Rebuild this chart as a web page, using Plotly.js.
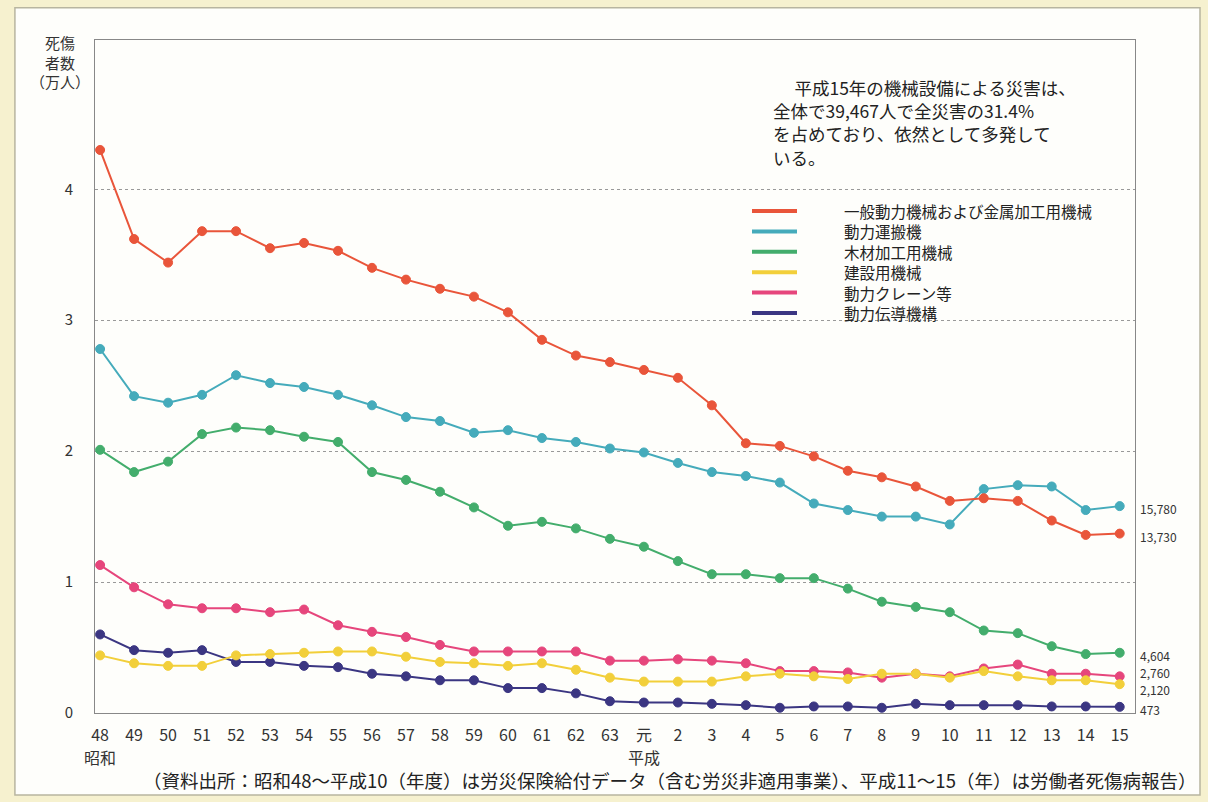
<!DOCTYPE html>
<html>
<head>
<meta charset="utf-8">
<script src="https://cdn.plot.ly/plotly-3.0.1.min.js"></script>
<style>
  body { margin: 0; padding: 0; background: #f6f1cf; }
  #plot { width: 1208px; height: 802px; }
</style>
</head>
<body>
<div id="plot"></div>
<script>
// 年度（昭和48〜63、元、平成2〜15）
var years = ['48','49','50','51','52','53','54','55','56','57','58','59','60','61','62','63',
             '元','2','3','4','5','6','7','8','9','10','11','12','13','14','15'];

var names = ['一般動力機械および金属加工用機械', '動力運搬機', '木材加工用機械', '建設用機械', '動力クレーン等', '動力伝導機構'];
var colors = ['#e9553a', '#45abbb', '#43ad6c', '#f2cf3a', '#e6467c', '#3b3682'];

// 死傷者数（万人）
var kinzoku = [4.30,3.62,3.44,3.68,3.68,3.55,3.59,3.53,3.40,3.31,3.24,3.18,3.06,2.85,2.73,2.68,
               2.62,2.56,2.35,2.06,2.04,1.96,1.85,1.80,1.73,1.62,1.64,1.62,1.47,1.36,1.37];
var unpan   = [2.78,2.42,2.37,2.43,2.58,2.52,2.49,2.43,2.35,2.26,2.23,2.14,2.16,2.10,2.07,2.02,
               1.99,1.91,1.84,1.81,1.76,1.60,1.55,1.50,1.50,1.44,1.71,1.74,1.73,1.55,1.58];
var mokuzai = [2.01,1.84,1.92,2.13,2.18,2.16,2.11,2.07,1.84,1.78,1.69,1.57,1.43,1.46,1.41,1.33,
               1.27,1.16,1.06,1.06,1.03,1.03,0.95,0.85,0.81,0.77,0.63,0.61,0.51,0.45,0.46];
var kensetsu = [0.44,0.38,0.36,0.36,0.44,0.45,0.46,0.47,0.47,0.43,0.39,0.38,0.36,0.38,0.33,0.27,
                0.24,0.24,0.24,0.28,0.30,0.28,0.26,0.30,0.30,0.27,0.32,0.28,0.25,0.25,0.22];
var crane   = [1.13,0.96,0.83,0.80,0.80,0.77,0.79,0.67,0.62,0.58,0.52,0.47,0.47,0.47,0.47,0.40,
               0.40,0.41,0.40,0.38,0.32,0.32,0.31,0.27,0.30,0.28,0.34,0.37,0.30,0.30,0.28];
var dendou  = [0.60,0.48,0.46,0.48,0.39,0.39,0.36,0.35,0.30,0.28,0.25,0.25,0.19,0.19,0.15,0.09,
               0.08,0.08,0.07,0.06,0.04,0.05,0.05,0.04,0.07,0.06,0.06,0.06,0.05,0.05,0.047];

var endLabels = ['15,780', '13,730', '4,604', '2,760', '2,120', '473'];
var endLabelY = [1.56, 1.35, 0.44, 0.31, 0.18, 0.03];

var noteLines = ['\u3000 平成15年の機械設備による災害は、', '全体で39,467人で全災害の31.4%',
                 'を占めており、依然として多発して', 'いる。'];

var series = [kinzoku, unpan, mokuzai, kensetsu, crane, dendou];

var data = [];
for (var j = series.length - 1; j >= 0; j--) {
  data.push({
    x: years, y: series[j],
    type: 'scatter', mode: 'lines+markers',
    name: names[j],
    line: { color: colors[j], width: 2 },
    marker: { color: colors[j], size: 9, line: { color: colors[j], width: 1 } }
  });
}

// px -> paper helpers (plot area 95..1135 x 40..713)
function px(v) { return (v - 95) / 1040; }
function py(v) { return (713 - v) / 673; }

var annotations = [];
var shapes = [{
  type: 'rect', xref: 'paper', yref: 'paper', layer: 'below',
  x0: -0.077, x1: 1.0625, y0: -0.122, y1: 1.048,
  fillcolor: '#fefefb', line: { color: '#b8b5a0', width: 1.5 }
}];

// legend (line samples + names)
for (var i = 0; i < names.length; i++) {
  var ly = 211 + i * 20.4;
  shapes.push({
    type: 'line', xref: 'paper', yref: 'paper',
    x0: px(752), x1: px(797), y0: py(ly), y1: py(ly),
    line: { color: colors[i], width: 4 }
  });
  annotations.push({
    x: px(843), xref: 'paper', xanchor: 'left',
    y: py(ly), yref: 'paper', yanchor: 'middle',
    text: names[i], showarrow: false, borderpad: 0,
    font: { size: 15.5, color: '#222' }
  });
}

for (var k = 0; k < endLabels.length; k++) {
  annotations.push({
    x: 1.0, xref: 'paper', xanchor: 'left', xshift: 4,
    y: endLabelY[k], yref: 'y', yanchor: 'middle',
    text: endLabels[k], showarrow: false, borderpad: 0,
    font: { size: 12, color: '#333' }
  });
}
// 昭和・平成
annotations.push({
  x: 0, xref: 'x', xanchor: 'center',
  y: -0.045, yref: 'paper', yanchor: 'top',
  text: '昭和', showarrow: false, font: { size: 16, color: '#333' }
});
annotations.push({
  x: 16, xref: 'x', xanchor: 'center',
  y: -0.045, yref: 'paper', yanchor: 'top',
  text: '平成', showarrow: false, font: { size: 16, color: '#333' }
});
annotations.push({
  x: -0.003, xref: 'paper', xanchor: 'right',
  y: 1.015, yref: 'paper', yanchor: 'top',
  text: '死傷<br>者数<br>（万人）', align: 'center', showarrow: false,
  font: { size: 15, color: '#333' }
});
var noteY = [88, 111, 134, 157];
for (var n = 0; n < noteLines.length; n++) {
  annotations.push({
    x: px(772), xref: 'paper', xanchor: 'left',
    y: py(noteY[n]), yref: 'paper', yanchor: 'middle',
    text: noteLines[n], showarrow: false, borderpad: 0,
    font: { size: 17.5, color: '#222' }
  });
}
annotations.push({
  x: 0.552, xref: 'paper', xanchor: 'center',
  y: -0.078, yref: 'paper', yanchor: 'top',
  text: '（資料出所：昭和48～平成10（年度）は労災保険給付データ（含む労災非適用事業）、平成11～15（年）は労働者死傷病報告）',
  showarrow: false,
  font: { size: 18.5, color: '#222' }
});

var layout = {
  width: 1208, height: 802,
  margin: { l: 95, r: 73, t: 40, b: 89 },
  paper_bgcolor: '#f6f1cf',
  plot_bgcolor: '#ffffff',
  font: { family: '"Noto Sans CJK JP", "Noto Sans", sans-serif', color: '#333' },
  showlegend: false,
  xaxis: {
    type: 'category',
    tickmode: 'array', tickvals: years, ticktext: years,
    range: [-0.15, 30.45],
    showgrid: false, zeroline: false,
    showline: true, linecolor: '#888', linewidth: 1, mirror: true,
    ticks: '', ticklabelstandoff: 8,
    tickfont: { size: 16, color: '#333' }
  },
  yaxis: {
    range: [0, 5.14],
    tickvals: [0, 1, 2, 3, 4],
    showgrid: true, gridcolor: '#999', griddash: 'dot', gridwidth: 1,
    zeroline: false,
    showline: true, linecolor: '#888', linewidth: 1, mirror: true,
    ticks: '', ticklabelstandoff: 18,
    tickfont: { size: 15, color: '#333' }
  },
  shapes: shapes,
  annotations: annotations
};

Plotly.newPlot('plot', data, layout, { displayModeBar: false });
</script>
</body>
</html>
